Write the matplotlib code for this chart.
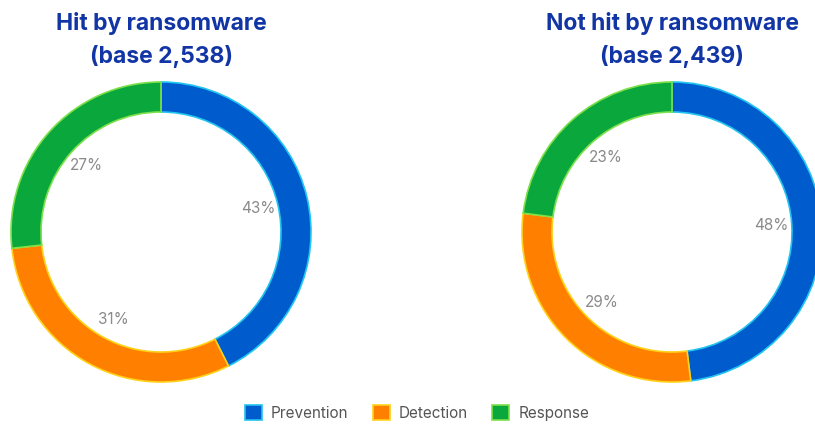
import matplotlib
matplotlib.use("Agg")
import matplotlib.pyplot as plt
from matplotlib.patches import Patch

categories = ["Prevention", "Detection", "Response"]
hit_values = [43, 31, 27]
not_hit_values = [48, 29, 23]
titles = ["Hit by ransomware\n(base 2,538)", "Not hit by ransomware\n(base 2,439)"]

colors = ["#005ccc", "#ff8000", "#0aa83c"]
edges = ["#22c4f0", "#ffd21a", "#7ce04a"]

W, H = 815, 424
fig = plt.figure(figsize=(W / 100, H / 100), dpi=100)
plt.rcParams['font.family'] = ['Inter', 'DejaVu Sans']

def px_axes(cx, cy, r):
    return fig.add_axes([(cx - r) / W, (H - cy - r) / H, 2 * r / W, 2 * r / H])

centers = [(161, 232), (672, 232)]
for (cx, cy), vals, title in zip(centers, [hit_values, not_hit_values], titles):
    ax = px_axes(cx, cy, 150)
    wedges, texts, autotexts = ax.pie(
        vals, colors=colors, startangle=90, counterclock=False, radius=1,
        autopct=lambda p: f"{p:.0f}%", pctdistance=0.665,
        wedgeprops=dict(width=0.2, linewidth=1.2),
        textprops=dict(color="#8a8a8a", fontsize=11))
    for w, ec in zip(wedges, edges):
        w.set_edgecolor(ec)
    ax.set_xlim(-1, 1)
    ax.set_ylim(-1, 1)
    ax.set_aspect("equal")
    ax.axis("off")
    fig.text(cx / W, 1 - 40 / H, title, ha="center", va="center",
             fontsize=16.5, fontweight="bold", color="#1235a6", linespacing=1.55)

handles = [Patch(facecolor=c, edgecolor=e, linewidth=1.2) for c, e in zip(colors, edges)]
fig.legend(handles, categories, loc="center", bbox_to_anchor=(417 / W, 1 - 413 / H),
           ncol=3, frameon=False, fontsize=11, labelcolor="#555555",
           handlelength=1.1, handleheight=1.1, handletextpad=0.6, columnspacing=1.6)

fig.savefig("out.png", dpi=100)
